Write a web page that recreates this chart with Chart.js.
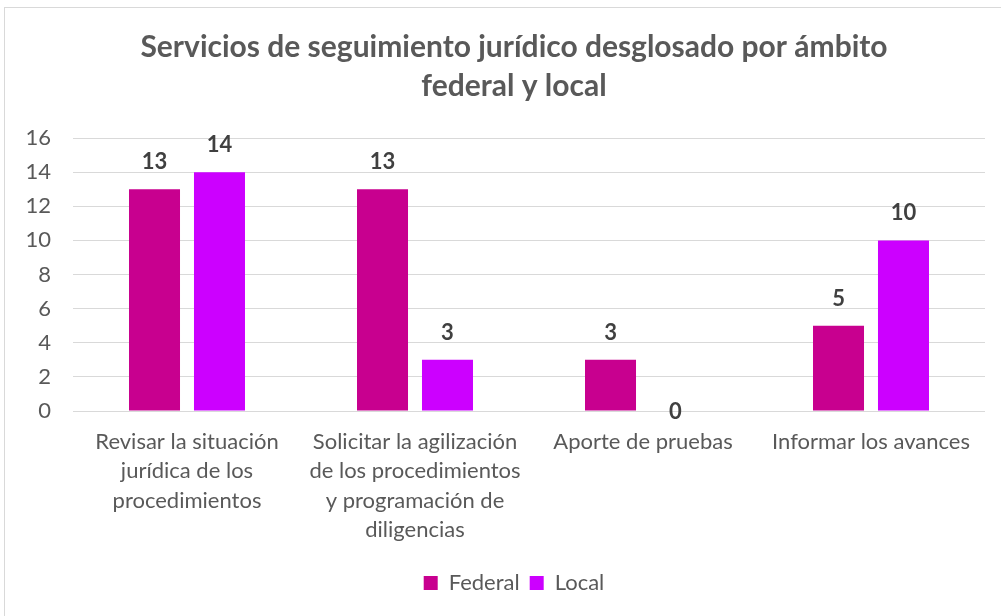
<!DOCTYPE html>
<html>
<head>
<meta charset="utf-8">
<script src="https://cdn.jsdelivr.net/npm/chart.js@4/dist/chart.umd.min.js"></script>
<style>
  html, body { margin: 0; padding: 0; background: #fff; overflow: hidden; }
  #frame {
    position: absolute; left: 4px; top: 7px; width: 1020px; height: 620px;
    border: 1px solid #d9d9d9; box-sizing: border-box;
  }
  #wrap { position: absolute; left: 0; top: 0; width: 1028px; height: 616px; }
</style>
</head>
<body>
<div id="frame"></div>
<div id="wrap"><canvas id="chart"></canvas></div>
<script>
const categories = [
  ["Revisar la situación", "jurídica de los", "procedimientos"],
  ["Solicitar la agilización", "de los procedimientos", "y programación de", "diligencias"],
  "Aporte de pruebas",
  "Informar los avances"
];
const federal = [13, 13, 3, 5];
const local = [14, 3, 0, 10];
const yTicks = [0, 2, 4, 6, 8, 10, 12, 14, 16];

const textGray = "#595959";
const fontFamily = "Lato, 'Open Sans', sans-serif";

// draw value labels above each bar
const valueLabels = {
  id: "valueLabels",
  afterDatasetsDraw(chart) {
    const ctx = chart.ctx;
    ctx.save();
    ctx.font = "bold 22px " + fontFamily;
    ctx.fillStyle = "#404040";
    ctx.textAlign = "center";
    ctx.textBaseline = "middle";
    chart.data.datasets.forEach((ds, i) => {
      chart.getDatasetMeta(i).data.forEach((bar, j) => {
        const v = ds.data[j];
        const y = v === 0 ? bar.y + 1 : bar.y - 27;
        ctx.fillText(String(v), bar.x, y);
      });
    });
    ctx.restore();
  }
};

new Chart(document.getElementById("chart"), {
  type: "bar",
  data: {
    labels: categories,
    datasets: [
      { label: "Federal", data: federal, backgroundColor: "#C8008F",
        categoryPercentage: 0.57, barPercentage: 0.785 },
      { label: "Local", data: local, backgroundColor: "#CC00FF",
        categoryPercentage: 0.57, barPercentage: 0.785 }
    ]
  },
  options: {
    responsive: true,
    maintainAspectRatio: false,
    animation: false,
    layout: { padding: { left: 0, right: 0, top: 0, bottom: 12 } },
    plugins: {
      title: {
        display: true,
        text: ["Servicios de seguimiento jurídico desglosado por ámbito", "federal y local"],
        color: textGray,
        font: { family: fontFamily, size: 30, weight: "bold", lineHeight: 1.3 },
        padding: { top: 28, bottom: 32 }
      },
      legend: {
        position: "bottom",
        labels: {
          color: textGray,
          font: { family: fontFamily, size: 22 },
          boxWidth: 14, boxHeight: 14, padding: 10
        }
      },
      tooltip: { enabled: false }
    },
    scales: {
      x: {
        grid: { display: false },
        border: { display: false },
        ticks: {
          color: textGray,
          font: { family: fontFamily, size: 22, lineHeight: 1.34 },
          padding: 8,
          maxRotation: 0, autoSkip: false
        },
        afterFit(scale) { scale.height = 151; }
      },
      y: {
        min: 0, max: 16,
        grid: { color: "#d9d9d9", drawTicks: false },
        border: { display: false },
        afterBuildTicks(scale) { scale.ticks = yTicks.map(v => ({ value: v })); },
        ticks: {
          color: textGray,
          font: { family: fontFamily, size: 22 },
          padding: 22
        },
        afterFit(scale) { scale.width = 73; }
      },
      // empty right-hand spacer so title and legend centre like the original
      spacer: {
        type: "linear",
        position: "right",
        grid: { display: false },
        border: { display: false },
        ticks: { display: false },
        afterFit(scale) { scale.width = 43; }
      }
    }
  },
  plugins: [valueLabels]
});
</script>
</body>
</html>
